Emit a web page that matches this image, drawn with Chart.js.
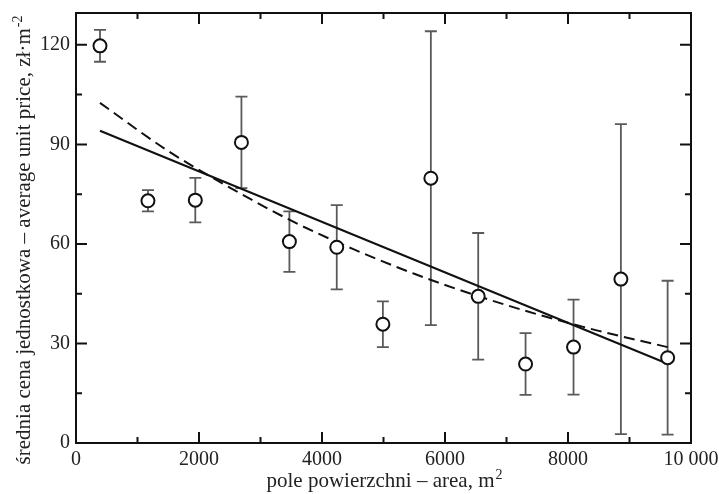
<!DOCTYPE html>
<html>
<head>
<meta charset="utf-8">
<script src="https://cdn.jsdelivr.net/npm/chart.js@4.4.0/dist/chart.umd.min.js"></script>
<style>
html, body { margin: 0; padding: 0; background: #fff; }
</style>
</head>
<body>
<canvas id="chart" width="719" height="494"></canvas>
<script>
// Data
const areas = [390, 1170, 1940, 2690, 3470, 4240, 4990, 5770, 6540, 7310, 8090, 8860, 9620];
const prices = [119.7, 73.0, 73.2, 90.6, 60.7, 59.0, 35.8, 79.8, 44.2, 23.8, 28.9, 49.4, 25.7];
const errors = [4.8, 3.2, 6.7, 13.8, 9.1, 12.7, 6.9, 44.3, 19.1, 9.3, 14.3, 46.7, 23.2];

// Fitted lines (solid = linear, dashed = curved)
const linearX = [390, 9620];
const linearY = [94.1, 23.9];
const curveX = [390, 1500, 2500, 3500, 4500, 5500, 6500, 7500, 8500, 9620];
const curveY = [102.5, 88, 77, 67, 58.5, 51, 44.5, 38.8, 33.8, 28.9];

// Axis titles (main text + superscript)
const xTitle = ['pole powierzchni – area, m', '2'];
const yTitle = ['średnia cena jednostkowa – average unit price, zł·m', '-2'];

const serif = "'Liberation Serif', 'Times New Roman', serif";

const toPoints = (xs, ys) => xs.map((v, i) => ({ x: v, y: ys[i] }));

function drawTitle(ctx, parts) {
    ctx.font = '21px ' + serif;
    const w1 = ctx.measureText(parts[0]).width;
    ctx.font = '14px ' + serif;
    const w2 = ctx.measureText(parts[1]).width;
    const total = w1 + 1 + w2;
    ctx.textAlign = 'left';
    ctx.textBaseline = 'alphabetic';
    ctx.font = '21px ' + serif;
    ctx.fillText(parts[0], -total / 2, 0);
    ctx.font = '14px ' + serif;
    ctx.fillText(parts[1], -total / 2 + w1 + 1, -8);
}

// Error bars, frame, inward tick marks and axis titles
const framePlugin = {
    id: 'frame',
    beforeDatasetsDraw(chart) {
        const ctx = chart.ctx;
        const x = chart.scales.x, y = chart.scales.y;
        ctx.save();
        ctx.strokeStyle = '#5a5a5a';
        ctx.lineWidth = 1.8;
        areas.forEach((a, i) => {
            const px = x.getPixelForValue(a);
            const top = y.getPixelForValue(prices[i] + errors[i]);
            const bot = y.getPixelForValue(prices[i] - errors[i]);
            ctx.beginPath();
            ctx.moveTo(px, top); ctx.lineTo(px, bot);
            ctx.moveTo(px - 6, top); ctx.lineTo(px + 6, top);
            ctx.moveTo(px - 6, bot); ctx.lineTo(px + 6, bot);
            ctx.stroke();
        });
        ctx.restore();
    },
    afterDraw(chart) {
        const ctx = chart.ctx;
        const { left, right, top, bottom } = chart.chartArea;
        const x = chart.scales.x, y = chart.scales.y;
        ctx.save();
        ctx.strokeStyle = '#111';
        ctx.lineWidth = 2;
        ctx.strokeRect(left, top, right - left, bottom - top);

        ctx.beginPath();
        x.ticks.forEach(t => {
            if (t.value <= x.min || t.value >= x.max || t.value % 1000 !== 0) return;
            const len = t.value % 2000 === 0 ? 11 : 6;
            const px = x.getPixelForValue(t.value);
            ctx.moveTo(px, bottom); ctx.lineTo(px, bottom - len);
            ctx.moveTo(px, top); ctx.lineTo(px, top + len);
        });
        y.ticks.forEach(t => {
            if (t.value <= y.min || t.value >= y.max || t.value % 15 !== 0) return;
            const len = t.value % 30 === 0 ? 11 : 6;
            const py = y.getPixelForValue(t.value);
            ctx.moveTo(left, py); ctx.lineTo(left + len, py);
            ctx.moveTo(right, py); ctx.lineTo(right - len, py);
        });
        ctx.stroke();

        ctx.fillStyle = '#222';
        ctx.save();
        ctx.translate((left + right) / 2 + 1, 487);
        drawTitle(ctx, xTitle);
        ctx.restore();

        ctx.save();
        ctx.translate(30, (top + bottom) / 2 + 12);
        ctx.rotate(-Math.PI / 2);
        drawTitle(ctx, yTitle);
        ctx.restore();
        ctx.restore();
    }
};

new Chart(document.getElementById('chart').getContext('2d'), {
    type: 'scatter',
    data: {
        datasets: [
            {
                label: 'mean',
                data: toPoints(areas, prices),
                pointRadius: 6.5,
                pointBorderWidth: 2,
                pointBackgroundColor: '#fff',
                pointBorderColor: '#111'
            },
            {
                type: 'line',
                label: 'linear',
                data: toPoints(linearX, linearY),
                borderColor: '#111',
                borderWidth: 2,
                pointRadius: 0,
                fill: false
            },
            {
                type: 'line',
                label: 'curve',
                data: toPoints(curveX, curveY),
                borderColor: '#111',
                borderWidth: 2,
                borderDash: [11, 6],
                pointRadius: 0,
                cubicInterpolationMode: 'monotone',
                fill: false
            }
        ]
    },
    options: {
        responsive: false,
        animation: false,
        devicePixelRatio: 1,
        layout: { padding: { top: 13, right: 28, left: 0, bottom: 0 } },
        plugins: {
            legend: { display: false },
            tooltip: { enabled: false }
        },
        scales: {
            x: {
                type: 'linear',
                min: 0,
                max: 10000,
                grid: { display: false, drawTicks: false },
                border: { display: false },
                ticks: {
                    stepSize: 1000,
                    autoSkip: false,
                    maxRotation: 0,
                    padding: 5,
                    color: '#222',
                    font: { family: serif, size: 20 },
                    callback: v => v % 2000 !== 0 ? '' : (v === 10000 ? '10 000' : String(v))
                },
                afterFit: s => {
                    s.height = 51;
                    s.paddingLeft = 0;
                    s.paddingRight = 0;
                }
            },
            y: {
                type: 'linear',
                min: 0,
                max: 129.6,
                grid: { display: false, drawTicks: false },
                border: { display: false },
                ticks: {
                    stepSize: 15,
                    autoSkip: false,
                    padding: 6,
                    color: '#222',
                    font: { family: serif, size: 20 },
                    callback: v => v % 30 === 0 ? String(v) : ''
                },
                afterFit: s => {
                    s.width = 76;
                    s.paddingTop = 0;
                    s.paddingBottom = 0;
                }
            }
        }
    },
    plugins: [framePlugin]
});
</script>
</body>
</html>
